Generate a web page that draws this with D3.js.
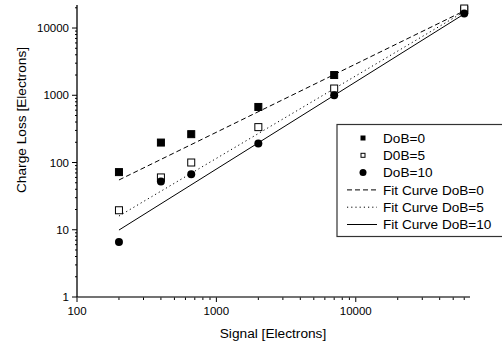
<!DOCTYPE html>
<html lang="en">
<head>
<meta charset="UTF-8" />
<title>Charge Loss vs Signal</title>
<script src="https://cdn.jsdelivr.net/npm/d3@7"></script>
<style>
  body { margin: 0; background: #fff; }
  svg { font-family: "Liberation Sans", Arial, sans-serif; }
</style>
</head>
<body>
<div id="app"></div>
<script>
// data
const signal = [200, 400, 660, 2000, 7000, 60000];
const dob0 = [72, 198, 264, 670, 2000, 18500];
const dob5 = [19.5, 60, 100, 336, 1260, 19500];
const dob10 = [6.6, 52, 67, 192, 1000, 16500];
// fit curves, straight on log-log: [start, end]
const fitX = [200, 60000];
const fit0 = [55, 18000];
const fit5 = [16, 17500];
const fit10 = [9.9, 16200];
const xTicks = [100, 1000, 10000];
const yTicks = [1, 10, 100, 1000, 10000];

const w = 502, h = 346;
const svg = d3.select("#app").append("svg")
  .attr("width", w).attr("height", h);

const x = d3.scaleLog().domain([100, 66000]).range([77, 470]);
const y = d3.scaleLog().domain([1, 22000]).range([297, 5]);

// minor ticks 2..9 each decade
const minor = (lo, hi) => {
  const out = [];
  for (let d = lo; d < hi; d *= 10)
    for (let k = 2; k <= 9; k++) if (d * k <= hi) out.push(d * k);
  return out;
};

//Axes
const gx = svg.append("g");
gx.selectAll(".mn").data(minor(100, 66000)).enter().append("line")
  .attr("x1", d => x(d)).attr("x2", d => x(d))
  .attr("y1", 297).attr("y2", 300).attr("stroke", "#000");
gx.selectAll(".mj").data(xTicks).enter().append("line")
  .attr("x1", d => x(d)).attr("x2", d => x(d))
  .attr("y1", 297).attr("y2", 302).attr("stroke", "#000");
gx.selectAll("text").data(xTicks).enter().append("text")
  .attr("x", d => x(d)).attr("y", 315)
  .attr("text-anchor", "middle").attr("font-size", "11.5px")
  .text(d => d);

const gy = svg.append("g");
gy.selectAll(".mn").data(minor(1, 22000)).enter().append("line")
  .attr("x1", 75).attr("x2", 77)
  .attr("y1", d => y(d)).attr("y2", d => y(d)).attr("stroke", "#000");
gy.selectAll(".mj").data(yTicks).enter().append("line")
  .attr("x1", 72).attr("x2", 77)
  .attr("y1", d => y(d)).attr("y2", d => y(d)).attr("stroke", "#000");
gy.selectAll("text").data(yTicks).enter().append("text")
  .attr("x", 69).attr("y", d => y(d))
  .attr("dy", "0.36em")
  .attr("text-anchor", "end").attr("font-size", "11.5px")
  .text(d => d);

svg.append("line").attr("x1", 77).attr("x2", 470).attr("y1", 297).attr("y2", 297)
  .attr("stroke", "#444").attr("stroke-width", 1.6);
svg.append("line").attr("x1", 77).attr("x2", 77).attr("y1", 297).attr("y2", 5)
  .attr("stroke", "#000").attr("stroke-width", 1.3);

svg.append("text").attr("x", 273).attr("y", 338)
  .attr("text-anchor", "middle").attr("font-size", "13.7px")
  .text("Signal [Electrons]");
svg.append("text")
  .attr("transform", "translate(26,120) rotate(-90)")
  .attr("text-anchor", "middle").attr("font-size", "13.7px")
  .text("Charge Loss [Electrons]");

//Fit curves
const fits = [
  { v: fit0, dash: "5,3" },
  { v: fit5, dash: "1.2,3" },
  { v: fit10, dash: null }
];
fits.forEach(f => {
  svg.append("line")
    .attr("x1", x(fitX[0])).attr("y1", y(f.v[0]))
    .attr("x2", x(fitX[1])).attr("y2", y(f.v[1]))
    .attr("stroke", "#000").attr("stroke-width", 1)
    .attr("stroke-dasharray", f.dash);
});

//Markers
const sq = (g, vals, fill) => g.selectAll(null).data(signal).enter().append("rect")
  .attr("x", (d) => x(d) - 3.5).attr("y", (d, i) => y(vals[i]) - 3.5)
  .attr("width", 7).attr("height", 7)
  .attr("fill", fill).attr("stroke", "#000").attr("stroke-width", 1);
sq(svg.append("g"), dob0, "#000");
sq(svg.append("g"), dob5, "#fff");
svg.append("g").selectAll("circle").data(signal).enter().append("circle")
  .attr("cx", d => x(d)).attr("cy", (d, i) => y(dob10[i]))
  .attr("r", 4).attr("fill", "#000");

//Legend
const lg = svg.append("g");
lg.append("rect").attr("x", 337).attr("y", 124.5).attr("width", 180).attr("height", 112)
  .attr("fill", "#fff").attr("stroke", "#333").attr("stroke-width", 1.2);
const rows = ["DoB=0", "D0B=5", "DoB=10", "Fit Curve DoB=0", "Fit Curve DoB=5", "Fit Curve DoB=10"];
const rowY = i => 138 + i * 17.3;
rows.forEach((t, i) => {
  lg.append("text").attr("x", 383).attr("y", rowY(i)).attr("dy", "0.36em")
    .attr("font-size", "13.6px").text(t);
});
lg.append("rect").attr("x", 360.5).attr("y", rowY(0) - 2.5).attr("width", 5).attr("height", 5).attr("fill", "#000");
lg.append("rect").attr("x", 361).attr("y", rowY(1) - 2).attr("width", 4).attr("height", 4)
  .attr("fill", "#fff").attr("stroke", "#000");
lg.append("circle").attr("cx", 363).attr("cy", rowY(2)).attr("r", 3.5).attr("fill", "#000");
fits.forEach((f, i) => {
  lg.append("line").attr("x1", 347).attr("x2", 377)
    .attr("y1", rowY(3 + i)).attr("y2", rowY(3 + i))
    .attr("stroke", "#000").attr("stroke-width", 1)
    .attr("stroke-dasharray", f.dash);
});
</script>
</body>
</html>
